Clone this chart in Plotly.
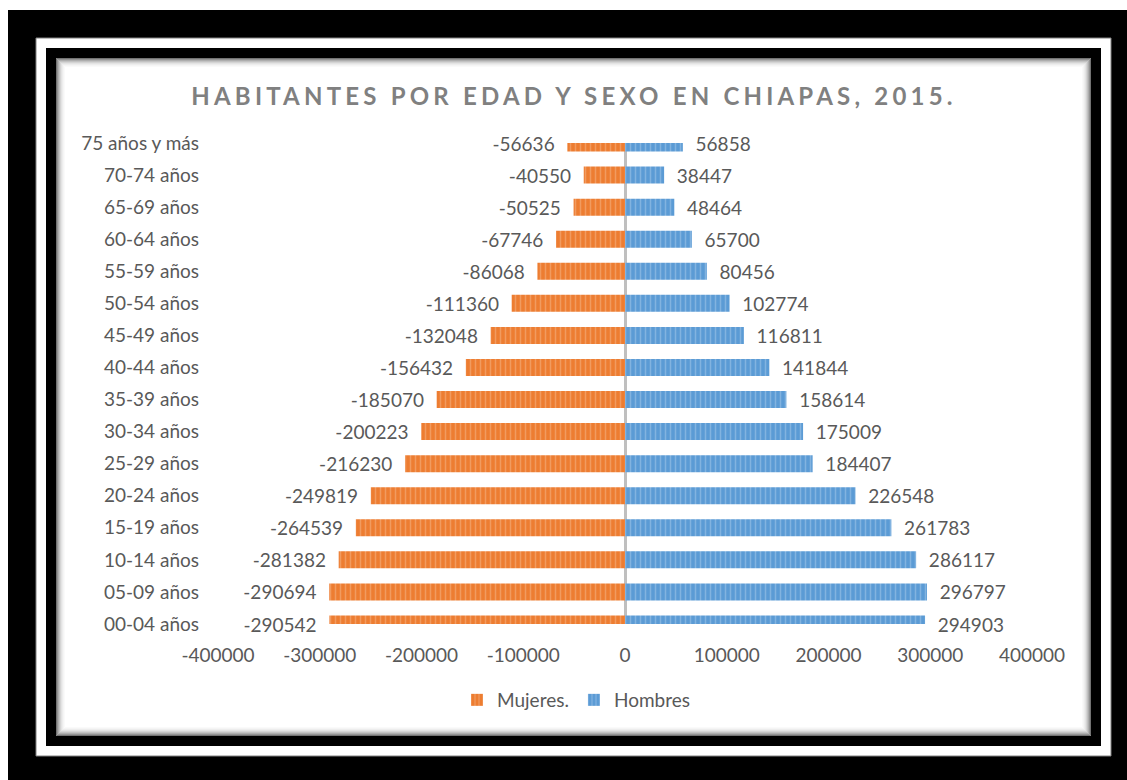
import plotly.graph_objects as go

categories = ["00-04 años", "05-09 años", "10-14 años", "15-19 años", "20-24 años",
              "25-29 años", "30-34 años", "35-39 años", "40-44 años", "45-49 años",
              "50-54 años", "55-59 años", "60-64 años", "65-69 años", "70-74 años",
              "75 años y más"]
mujeres = [-290542, -290694, -281382, -264539, -249819, -216230, -200223, -185070,
           -156432, -132048, -111360, -86068, -67746, -50525, -40550, -56636]
hombres = [294903, 296797, 286117, 261783, 226548, 184407, 175009, 158614,
           141844, 116811, 102774, 80456, 65700, 48464, 38447, 56858]
x_ticks = [-400000, -300000, -200000, -100000, 0, 100000, 200000, 300000, 400000]
title_text = "HABITANTES POR EDAD Y SEXO EN CHIAPAS, 2015."

W, H = 1127, 780
L, R, T, B = 218, 95, 143, 156
PW, PH = W - L - R, H - T - B

def px(x):
    return (x - L) / PW

def py(y):
    return 1 - (y - T) / PH

FONT = "Lato, Calibri, sans-serif"
TXT = "#595959"
FS = 19
NB = "\u00a0\u00a0"

fig = go.Figure()
fig.add_trace(go.Bar(
    y=categories, x=mujeres, orientation="h", name="Mujeres.",
    marker=dict(color="#ED7D31", line=dict(width=0),
                pattern=dict(shape="|", fgcolor="#F6B98E", bgcolor="#ED7D31",
                             size=5, solidity=0.3)),
    text=[f"{v}{NB}" for v in mujeres], textposition="outside",
    textfont=dict(family=FONT, size=FS, color=TXT), cliponaxis=False,
    constraintext="none", hoverinfo="skip",
))
fig.add_trace(go.Bar(
    y=categories, x=hombres, orientation="h", name="Hombres",
    marker=dict(color="#5B9BD5", line=dict(width=0),
                pattern=dict(shape="|", fgcolor="#A9CBEB", bgcolor="#5B9BD5",
                             size=5, solidity=0.3)),
    text=[f"{NB}{v}" for v in hombres], textposition="outside",
    textfont=dict(family=FONT, size=FS, color=TXT), cliponaxis=False,
    constraintext="none", hoverinfo="skip",
))

shapes = []
def rect(x0, y0, x1, y1, fill=None, line=None, lw=0):
    shapes.append(dict(type="rect", xref="paper", yref="paper", layer="below",
                       x0=px(x0), x1=px(x1), y0=py(y1), y1=py(y0),
                       fillcolor=fill if fill else "rgba(0,0,0,0)",
                       line=dict(color=line if line else "rgba(0,0,0,0)", width=lw)))

rect(8, 10, 1127, 780, fill="#000000")
rect(36, 38, 1111, 756, fill="#FFFFFF", line="#808080", lw=1)
rect(46, 48, 1101, 746, fill="#000000")
rect(56, 58, 1091, 736, fill="#FFFFFF")
alphas = [0.55, 0.42, 0.32, 0.24, 0.17, 0.11, 0.07, 0.04, 0.02]
for i, a in enumerate(alphas):
    o = i + 0.5
    rect(56 + o, 58 + o, 1091 - o, 736 - o, line=f"rgba(0,0,0,{a})", lw=1)

fig.update_layout(
    width=W, height=H,
    margin=dict(l=L, r=R, t=T, b=B),
    paper_bgcolor="#FFFFFF", plot_bgcolor="rgba(0,0,0,0)",
    barmode="relative", bargap=0.47,
    shapes=shapes,
    font=dict(family=FONT, size=FS, color=TXT),
    title=dict(text=title_text, x=px(574), xref="paper", xanchor="center",
               y=1 - 97 / H, yref="container", yanchor="middle",
               font=dict(family=FONT, size=24, color="#808080", weight="bold")),
    xaxis=dict(range=[-400000, 400000], tickvals=x_ticks,
               ticktext=[str(v) for v in x_ticks], showgrid=False,
               zeroline=True, zerolinecolor="#BFBFBF", zerolinewidth=3,
               showline=False, ticks="", ticklabelstandoff=18,
               tickfont=dict(family=FONT, size=FS, color=TXT)),
    yaxis=dict(type="category", categoryorder="array", categoryarray=categories,
               range=[0, 15], showgrid=False, zeroline=False, showline=False,
               ticks="", ticklabelstandoff=18,
               tickfont=dict(family=FONT, size=FS, color=TXT)),
    legend=dict(orientation="h", x=px(576), xanchor="center", y=py(700),
                yanchor="middle", font=dict(family=FONT, size=FS, color=TXT),
                bgcolor="rgba(0,0,0,0)", itemwidth=30, traceorder="normal"),
)

post = """
var gd = document.getElementById('{plot_id}');
gd.querySelectorAll('.gtitle').forEach(function(e){ e.setAttribute('letter-spacing', '4.2px'); });
"""
fig.write_html("out.html", post_script=post)
